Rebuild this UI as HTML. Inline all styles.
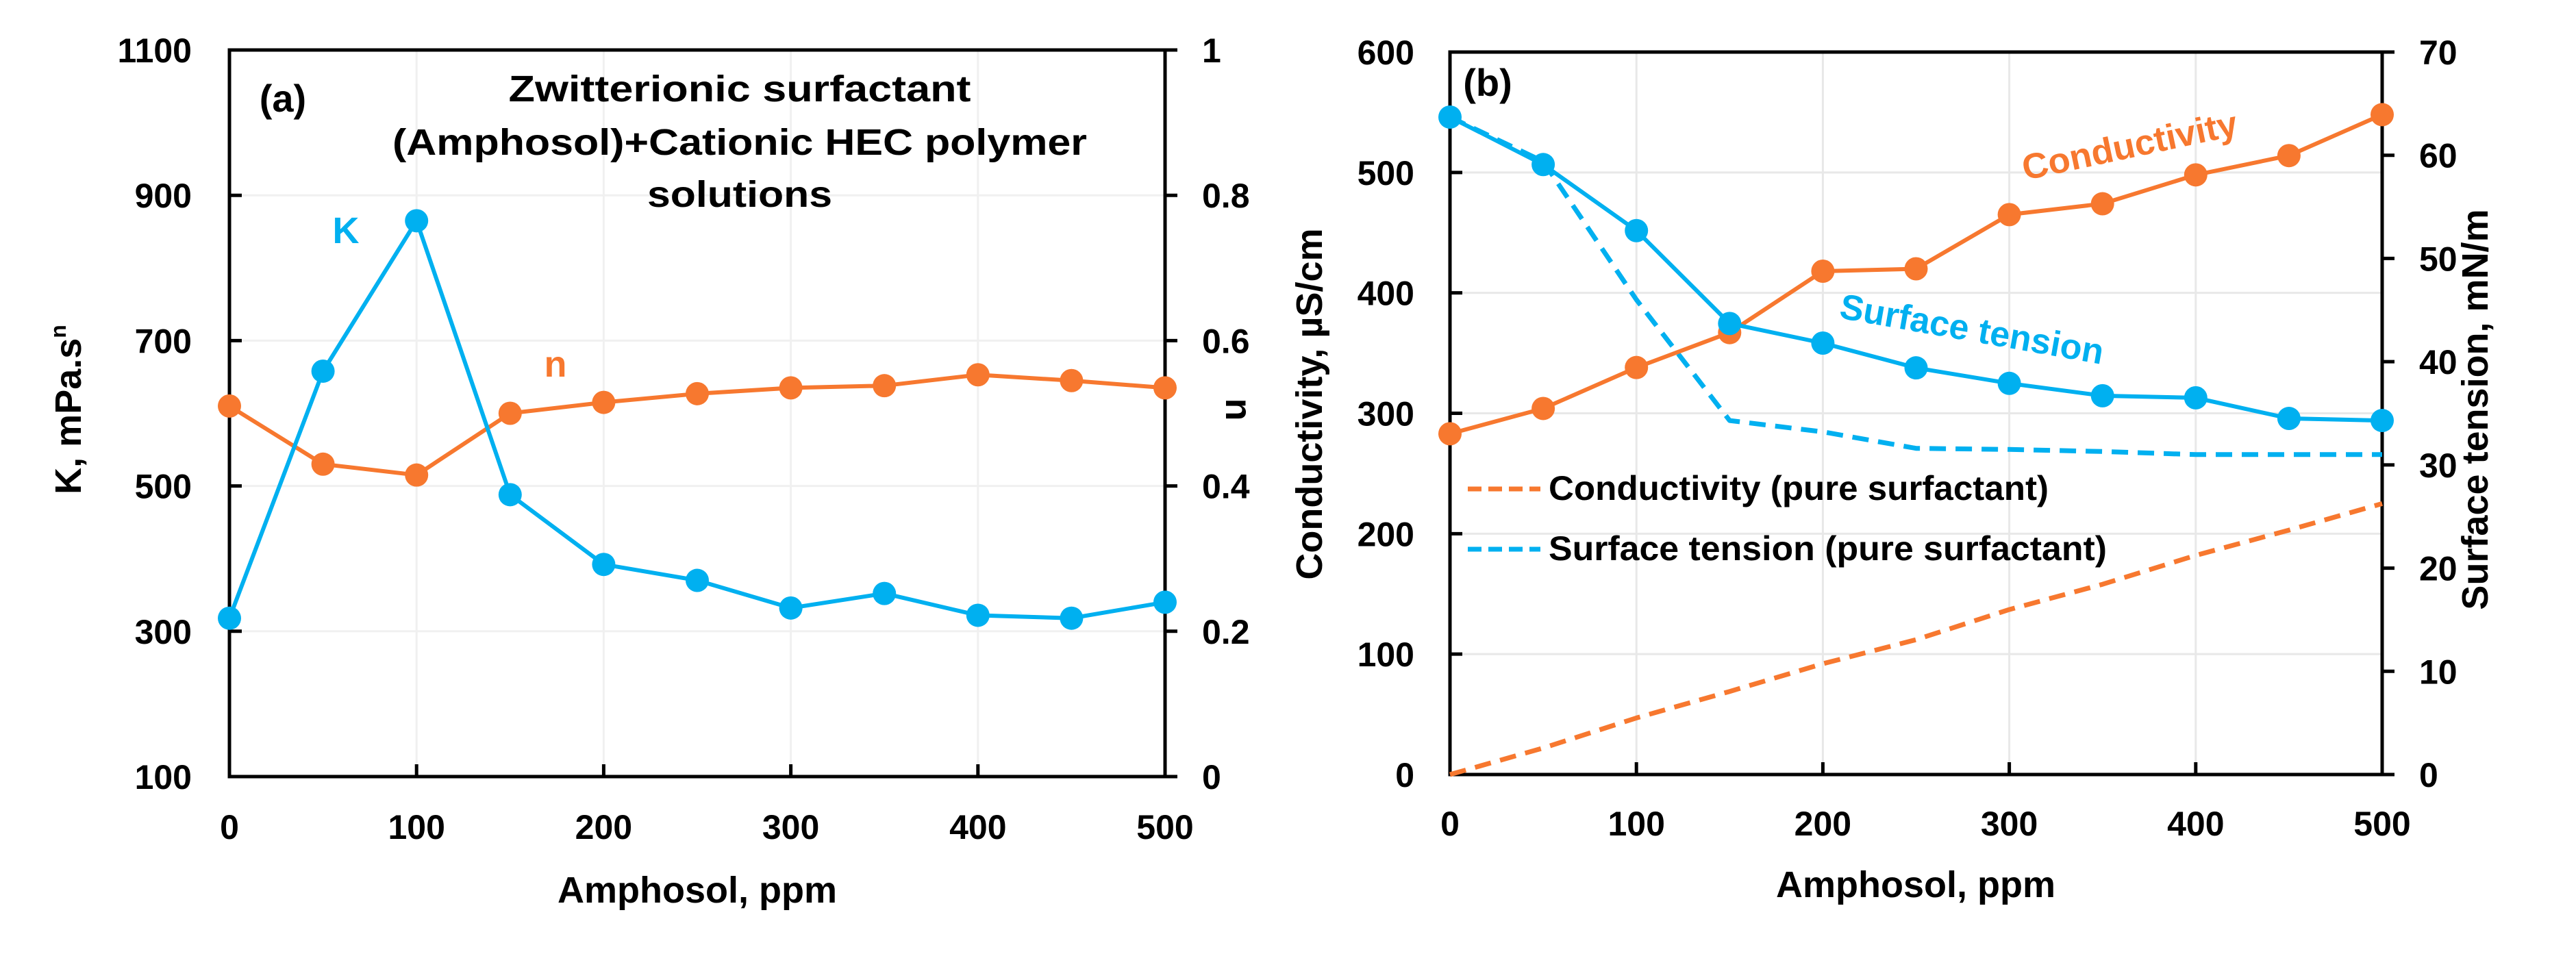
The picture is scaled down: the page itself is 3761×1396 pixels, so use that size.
<!DOCTYPE html>
<html><head><meta charset="utf-8"><style>
html,body{margin:0;padding:0;background:#fff;}
svg{display:block;font-family:"Liberation Sans",sans-serif;font-weight:bold;}
</style></head><body>
<svg id="chart" width="3761" height="1396" viewBox="0 0 3761 1396" xmlns="http://www.w3.org/2000/svg">
<rect width="3761" height="1396" fill="#fff"/>
<g id="pa"></g>
<g id="pb"></g>
</svg>
<script>
const xCats = [0,50,100,150,200,250,300,350,400,450,500];
const xTicks = [0,100,200,300,400,500];
const kValues = [318,658,865,488,392,370,332,352,322,318,340];
const nValues = [0.51,0.43,0.415,0.50,0.515,0.527,0.535,0.538,0.553,0.545,0.535];
const kTicks = [100,300,500,700,900,1100];
const nTicks = [0,0.2,0.4,0.6,0.8,1];
const nTickLabels = ["0","0.2","0.4","0.6","0.8","1"];
const condValues = [283,304,338,367,418,420,465,474,498,514,548];
const stValues = [63.7,59.1,52.7,43.7,41.8,39.4,37.9,36.7,36.5,34.5,34.3];
const condPure = [0,22,47,69,92,112,137,158,182,203,225];
const stPure = [63.7,59.4,46,34.3,33.2,31.6,31.5,31.3,31.0,31.0,31.0];
const condTicks = [0,100,200,300,400,500,600];
const stTicks = [0,10,20,30,40,50,60,70];

const NS="http://www.w3.org/2000/svg";
const BLUE="#00b0f0", ORANGE="#f7782f", GRID="#e8e8e8";
function mk(parent,tag,attrs,text){const e=document.createElementNS(NS,tag);for(const k in attrs)e.setAttribute(k,attrs[k]);if(text!==undefined)e.textContent=text;parent.appendChild(e);return e;}
function lin(d0,d1,r0,r1){return v=>r0+(v-d0)/(d1-d0)*(r1-r0);}

function series(g,xs,ys,sx,sy,color,name,markers,dashed){
  const pts=xs.map((x,i)=>sx(x).toFixed(1)+","+sy(ys[i]).toFixed(1)).join(" ");
  const pl=mk(g,"polyline",{points:pts,fill:"none",stroke:color,"stroke-width":dashed?7:6,"stroke-linejoin":"round"});
  if(dashed){pl.setAttribute("stroke-dasharray","24 14");}
  
  
  if(markers){xs.forEach((x,i)=>{
    const c=mk(g,"circle",{cx:sx(x),cy:sy(ys[i]),r:17,fill:color});
    
    
  });}
}

// Panel A
(function(){
  const g=document.getElementById("pa");
  const L=335,R=1701,T=73,B=1134;
  const sx=lin(0,500,L,R), sk=lin(100,1100,B,T), sn=lin(0,1,B,T);
  xTicks.forEach(t=>{const l=mk(g,"line",{x1:sx(t),x2:sx(t),y1:T,y2:B,stroke:"#f0f0f0","stroke-width":3});
    });
  kTicks.forEach(t=>{const l=mk(g,"line",{x1:L,x2:R,y1:sk(t),y2:sk(t),stroke:"#f0f0f0","stroke-width":3});
    });
  const fr=mk(g,"rect",{x:L,y:T,width:R-L,height:B-T,fill:"none",stroke:"#000","stroke-width":5});
  
  kTicks.forEach(t=>{mk(g,"line",{x1:L,x2:L+18,y1:sk(t),y2:sk(t),stroke:"#000","stroke-width":5});
    const tx=mk(g,"text",{x:L-55,y:sk(t)+18,"text-anchor":"end","font-size":50},String(t));
    });
  nTicks.forEach((t,i)=>{mk(g,"line",{x1:R,x2:R+18,y1:sn(t),y2:sn(t),stroke:"#000","stroke-width":5});
    const tx=mk(g,"text",{x:R+54,y:sn(t)+18,"text-anchor":"start","font-size":50},nTickLabels[i]);
    });
  xTicks.forEach(t=>{mk(g,"line",{x1:sx(t),x2:sx(t),y1:B,y2:B-18,stroke:"#000","stroke-width":5});
    const tx=mk(g,"text",{x:sx(t),y:1225,"text-anchor":"middle","font-size":50},String(t));
    });
  series(g,xCats,nValues,sx,sn,ORANGE,"n-series",true,false);
  series(g,xCats,kValues,sx,sk,BLUE,"k-series",true,false);
  let t;
  t=mk(g,"text",{x:1018,y:1318,"text-anchor":"middle","font-size":54},"Amphosol, ppm");
  
  t=mk(g,"text",{x:0,y:0,"text-anchor":"middle","font-size":54,transform:"translate(118,598) rotate(-90)"});
  t.innerHTML='K, mPa.s<tspan dy="-22" font-size="32">n</tspan>';
  
  t=mk(g,"text",{x:0,y:0,"text-anchor":"middle","font-size":54,transform:"translate(1790,598) rotate(90)"},"n");
  
  t=mk(g,"text",{x:413,y:163,"text-anchor":"middle","font-size":56},"(a)");
  
  [["Zwitterionic surfactant",148,675],["(Amphosol)+Cationic HEC polymer",226,1014],["solutions",302,270]].forEach(a=>{
    const e=mk(g,"text",{x:1080,y:a[1],"text-anchor":"middle","font-size":54,textLength:a[2],lengthAdjust:"spacingAndGlyphs"},a[0]);
    });
  t=mk(g,"text",{x:505,y:355,"text-anchor":"middle","font-size":54,fill:BLUE},"K");
  
  t=mk(g,"text",{x:811,y:550,"text-anchor":"middle","font-size":54,fill:ORANGE},"n");
  
})();

// Panel B
(function(){
  const g=document.getElementById("pb");
  const L=2117,R=3478,T=76,B=1131;
  const sx=lin(0,500,L,R), sc=lin(0,600,B,T), ss=lin(0,70,B,T);
  xTicks.forEach(t=>{const l=mk(g,"line",{x1:sx(t),x2:sx(t),y1:T,y2:B,stroke:GRID,"stroke-width":3});
    });
  condTicks.forEach(t=>{const l=mk(g,"line",{x1:L,x2:R,y1:sc(t),y2:sc(t),stroke:GRID,"stroke-width":3});
    });
  const fr=mk(g,"rect",{x:L,y:T,width:R-L,height:B-T,fill:"none",stroke:"#000","stroke-width":5});
  
  condTicks.forEach(t=>{mk(g,"line",{x1:L,x2:L+18,y1:sc(t),y2:sc(t),stroke:"#000","stroke-width":5});
    const tx=mk(g,"text",{x:L-52,y:sc(t)+18,"text-anchor":"end","font-size":50},String(t));
    });
  stTicks.forEach(t=>{mk(g,"line",{x1:R,x2:R+18,y1:ss(t),y2:ss(t),stroke:"#000","stroke-width":5});
    const tx=mk(g,"text",{x:R+54,y:ss(t)+18,"text-anchor":"start","font-size":50},String(t));
    });
  xTicks.forEach(t=>{mk(g,"line",{x1:sx(t),x2:sx(t),y1:B,y2:B-18,stroke:"#000","stroke-width":5});
    const tx=mk(g,"text",{x:sx(t),y:1220,"text-anchor":"middle","font-size":50},String(t));
    });
  series(g,xCats,condPure,sx,sc,ORANGE,"conductivity-pure",false,true);
  series(g,xCats,stPure,sx,ss,BLUE,"surface-tension-pure",false,true);
  series(g,xCats,condValues,sx,sc,ORANGE,"conductivity",true,false);
  series(g,xCats,stValues,sx,ss,BLUE,"surface-tension",true,false);
  let t;
  t=mk(g,"text",{x:2797,y:1310,"text-anchor":"middle","font-size":54},"Amphosol, ppm");
  
  t=mk(g,"text",{x:0,y:0,"text-anchor":"middle","font-size":54,transform:"translate(1930,590) rotate(-90)"},"Conductivity, µS/cm");
  
  t=mk(g,"text",{x:0,y:0,"text-anchor":"middle","font-size":54,transform:"translate(3632,598) rotate(-90)"},"Surface tension, mN/m");
  
  t=mk(g,"text",{x:2172,y:140,"text-anchor":"middle","font-size":56},"(b)");
  
  t=mk(g,"text",{x:0,y:0,"text-anchor":"middle","font-size":52,fill:ORANGE,transform:"translate(3113,230) rotate(-12)",textLength:320,lengthAdjust:"spacingAndGlyphs"},"Conductivity");
  
  t=mk(g,"text",{x:0,y:0,"text-anchor":"middle","font-size":52,fill:BLUE,transform:"translate(2876,498) rotate(10)",textLength:390,lengthAdjust:"spacingAndGlyphs"},"Surface tension");
  
  const lg=mk(g,"g",{});
  
  [[ORANGE,"Conductivity (pure surfactant)",714,730],[BLUE,"Surface tension (pure surfactant)",802,815]].forEach(a=>{
    const ln=mk(lg,"line",{x1:2143,x2:2249,y1:a[2],y2:a[2],stroke:a[0],"stroke-width":7,"stroke-dasharray":"20 10"});
    
    const tx=mk(lg,"text",{x:2261,y:a[2]+16,"font-size":50,textLength:a[3],lengthAdjust:"spacingAndGlyphs"},a[1]);
    
  });
})();
</script>
</body></html>
